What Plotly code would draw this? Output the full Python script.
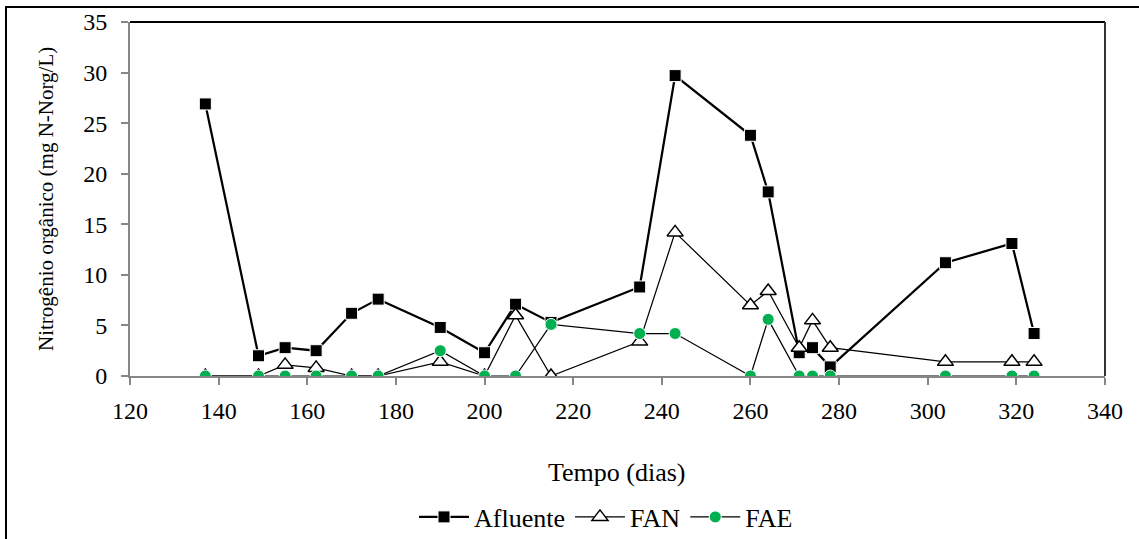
import plotly.graph_objects as go

dias = [137, 149, 155, 162, 170, 176, 190, 200, 207, 215, 235, 243, 260, 264, 271, 274, 278, 304, 319, 324]
afluente = [26.9, 2.0, 2.8, 2.5, 6.2, 7.6, 4.8, 2.3, 7.1, 5.3, 8.8, 29.7, 23.8, 18.2, 2.3, 2.8, 0.9, 11.2, 13.1, 4.2]
fan = [0, 0, 1.1, 0.8, 0, 0, 1.4, 0, 6.0, 0, 3.4, 14.2, 7.0, 8.4, 2.8, 5.5, 2.8, 1.4, 1.4, 1.4]
fae = [0, 0, 0, 0, 0, 0, 2.5, 0, 0, 5.1, 4.2, 4.2, 0, 5.6, 0, 0, 0, 0, 0, 0]

x_ticks = [120, 140, 160, 180, 200, 220, 240, 260, 280, 300, 320, 340]
y_ticks = [0, 5, 10, 15, 20, 25, 30, 35]

FONT = "Liberation Serif"

fig = go.Figure()
fig.add_trace(go.Scatter(
    x=dias, y=afluente, name="Afluente", mode="lines+markers",
    line=dict(color="black", width=2.25),
    marker=dict(symbol="square", size=12, color="black", line=dict(color="white", width=1)),
))
fig.add_trace(go.Scatter(
    x=dias, y=fan, name="FAN", mode="lines+markers",
    line=dict(color="black", width=1.25),
    marker=dict(symbol="triangle-up", size=14, color="white", line=dict(color="black", width=1.5)),
))
fig.add_trace(go.Scatter(
    x=dias, y=fae, name="FAE", mode="lines+markers",
    line=dict(color="black", width=1.25),
    marker=dict(symbol="circle", size=12, color="#00B050", line=dict(color="white", width=1)),
))

L, R, T, B = 130, 34, 22, 163
W, H = 1139, 539
pw = W - L - R
ph = H - T - B

def px(xp):
    return (xp - L) / pw

def py(yp):
    return (H - B - yp) / ph

fig.update_layout(
    width=W, height=H,
    margin=dict(l=L, r=R, t=T, b=B, autoexpand=False),
    paper_bgcolor="white", plot_bgcolor="white",
    font=dict(family=FONT, color="black", size=24),
    showlegend=True,
    legend=dict(
        orientation="h", x=px(606), xanchor="center", y=py(517), yanchor="middle",
        font=dict(family=FONT, size=26, color="black"), itemwidth=50, tracegroupgap=0,
        bgcolor="rgba(0,0,0,0)",
    ),
    xaxis=dict(
        range=[120, 340], tickmode="array", tickvals=x_ticks, ticktext=[str(v) for v in x_ticks],
        showgrid=False, zeroline=False, showline=True, linecolor="#878787", linewidth=2,
        ticks="outside", ticklen=7, tickcolor="#878787", tickwidth=1.5,
        tickfont=dict(family=FONT, size=24, color="black"), ticklabelstandoff=5,
    ),
    yaxis=dict(
        range=[0, 35], tickmode="array", tickvals=y_ticks, ticktext=[str(v) for v in y_ticks],
        showgrid=False, zeroline=False, showline=True, linecolor="#878787", linewidth=2,
        ticks="outside", ticklen=7, tickcolor="#878787", tickwidth=1.5,
        tickfont=dict(family=FONT, size=24, color="black"), ticklabelstandoff=9,
    ),
    shapes=[
        dict(type="rect", xref="paper", yref="paper",
             x0=px(6), x1=px(1150), y0=py(550), y1=py(7),
             line=dict(color="black", width=2), layer="below"),
        dict(type="line", xref="paper", yref="paper", x0=0, x1=1, y0=1, y1=1,
             line=dict(color="black", width=2), layer="below"),
        dict(type="line", xref="paper", yref="paper", x0=1, x1=1, y0=0, y1=1,
             line=dict(color="#333333", width=2), layer="below"),
    ],
    annotations=[
        dict(text="Nitrogênio orgânico (mg N-Norg/L)", xref="paper", yref="paper",
             x=px(46), y=0.5, xanchor="center", yanchor="middle", textangle=-90,
             showarrow=False, font=dict(family=FONT, size=21, color="black")),
        dict(text="Tempo (dias)", xref="paper", yref="paper",
             x=px(617), y=py(472), xanchor="center", yanchor="middle",
             showarrow=False, font=dict(family=FONT, size=26, color="black")),
    ],
)

fig.write_html("out.html")
